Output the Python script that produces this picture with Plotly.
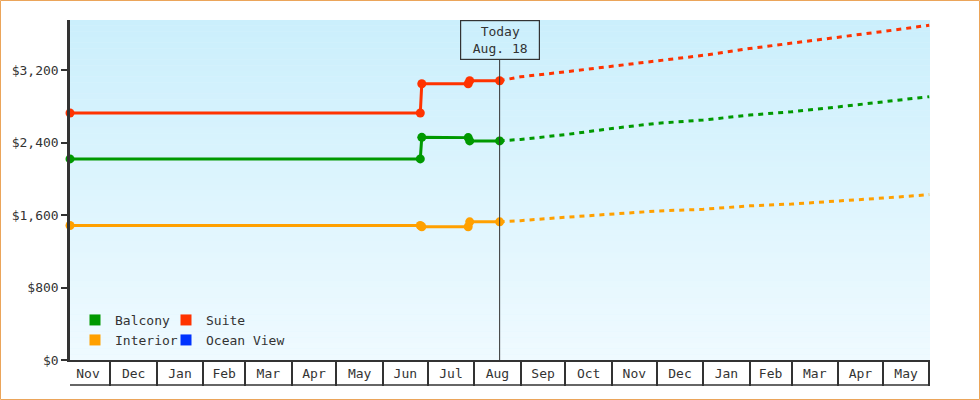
import plotly.graph_objects as go

FONT = "DejaVu Sans Mono, monospace"
INK = "#333333"

# price history (step changes) up to today
hist_dates = ["2021-11-04", "2022-06-26", "2022-06-27", "2022-07-28", "2022-07-29", "2022-08-18"]
balcony_hist = [2219, 2219, 2457, 2454, 2418, 2418]
suite_hist = [2726, 2726, 3049, 3049, 3082, 3082]
interior_hist = [1484, 1484, 1470, 1470, 1525, 1525]

# forecast from today onwards
forecast_dates = ["2022-08-18", "2022-09-01", "2022-10-01", "2022-11-01", "2022-12-01", "2023-01-01",
                  "2023-02-01", "2023-03-01", "2023-04-01", "2023-05-01", "2023-06-01"]
balcony_fc = [2418, 2434, 2487, 2555, 2612, 2648, 2703, 2739, 2793, 2851, 2906]
suite_fc = [3082, 3125, 3180, 3242, 3305, 3362, 3437, 3495, 3562, 3625, 3694]
interior_fc = [1525, 1538, 1575, 1611, 1644, 1663, 1701, 1721, 1751, 1787, 1825]

cabin_names = ["Balcony", "Suite", "Interior", "Ocean View"]
cabin_colors = ["#009900", "#ff3300", "#ffa000", "#0033ff"]

today = "2022-08-18"
today_label = "Today<br>Aug. 18"
x_range = ["2021-11-04", "2023-06-01 12:00"]
y_range = [0, 3752]

W, H = 980, 400
ML, MR, MT, MB = 70, 50, 20, 40
PW, PH = W - ML - MR, H - MT - MB

fig = go.Figure()

series = [
    ("Balcony", balcony_hist, balcony_fc),
    ("Suite", suite_hist, suite_fc),
    ("Interior", interior_hist, interior_fc),
]
color_of = dict(zip(cabin_names, cabin_colors))

for name, hist, fc in series:
    fig.add_trace(go.Scatter(
        x=forecast_dates, y=fc, mode="lines",
        line=dict(color=color_of[name], width=3, dash="5px,5px"),
        showlegend=False, cliponaxis=False, hoverinfo="skip"
    ))
for name, hist, fc in series:
    fig.add_trace(go.Scatter(
        x=hist_dates, y=hist, mode="lines+markers",
        line=dict(color=color_of[name], width=3),
        marker=dict(size=9, color=color_of[name]),
        showlegend=False, cliponaxis=False, name=name
    ))

# legend-only entries with square swatches, laid out 2 x 2
legend_slots = ["legend", "legend2", "legend3", "legend4"]
for name, slot in zip(cabin_names, legend_slots):
    fig.add_trace(go.Scatter(
        x=[None], y=[None], mode="markers", name=name,
        marker=dict(symbol="square", size=11, color=color_of[name]),
        legend=slot
    ))

# vertical gradient background
n_bands = 60
top_rgb = (203, 239, 252)
bot_rgb = (239, 250, 255)
for i in range(n_bands):
    t = i / (n_bands - 1)
    c = tuple(round(b + (tp - b) * t) for b, tp in zip(bot_rgb, top_rgb))
    fig.add_shape(type="rect", xref="paper", yref="paper", x0=0, x1=1,
                  y0=i / n_bands, y1=(i + 1) / n_bands,
                  fillcolor="rgb(%d,%d,%d)" % c, line_width=0, layer="below")

# today marker line
fig.add_shape(type="line", xref="x", yref="paper", x0=today, x1=today,
              y0=0, y1=(PH - 40) / PH, line=dict(color=INK, width=1))
fig.add_annotation(x=today, xref="x", y=1, yref="paper", yanchor="top",
                   text=today_label, showarrow=False, width=76, height=36,
                   borderpad=1, bordercolor=INK, borderwidth=1.2,
                   font=dict(family=FONT, size=13, color=INK))

# bottom line of the month band
fig.add_shape(type="line", xref="paper", yref="paper", x0=0, x1=1,
              y0=-25 / PH, y1=-25 / PH, line=dict(color=INK, width=1.5))

# orange frame around the whole chart
fig.add_shape(type="rect", xref="paper", yref="paper",
              x0=(0.5 - ML) / PW, x1=(W - 0.5 - ML) / PW,
              y0=-(MB - 0.5) / PH, y1=(PH + MT - 0.5) / PH,
              line=dict(color="#eba55a", width=1), fillcolor="rgba(0,0,0,0)")


def legend_box(px_left, px_mid):
    return dict(orientation="h", xanchor="left", yanchor="middle",
                x=(px_left - ML) / PW, y=(MT + PH - px_mid) / PH,
                bgcolor="rgba(0,0,0,0)",
                font=dict(family=FONT, size=13, color=INK))


fig.update_layout(
    width=W, height=H,
    margin=dict(l=ML, r=MR, t=MT, b=MB),
    paper_bgcolor="white",
    plot_bgcolor="#e0f5fd",
    font=dict(family=FONT, size=13, color=INK),
    legend=legend_box(75, 320),
    legend2=legend_box(166, 320),
    legend3=legend_box(75, 340),
    legend4=legend_box(166, 340),
    xaxis=dict(
        type="date", range=x_range, showgrid=False, zeroline=False,
        showline=True, linecolor=INK, linewidth=1.5,
        ticks="inside", ticklen=0, dtick="M1", tick0="2021-12-01",
        tickformat="%b", ticklabelmode="period", ticklabelstandoff=1,
        tickfont=dict(family=FONT, size=13, color=INK),
        minor=dict(ticks="outside", ticklen=24, tickwidth=1.5, tickcolor=INK,
                   dtick="M1", tick0="2021-12-01", showgrid=False),
    ),
    yaxis=dict(
        range=y_range, showgrid=False, zeroline=False,
        showline=True, linecolor=INK, linewidth=2.5,
        ticks="outside", ticklen=6, tickwidth=2, tickcolor=INK,
        dtick=800, tickprefix="$", tickformat=",d",
        tickfont=dict(family=FONT, size=13, color=INK),
    ),
    showlegend=True,
)

fig.write_html("out.html", config={"displayModeBar": False},
               post_script="document.body.style.margin = '0';")
